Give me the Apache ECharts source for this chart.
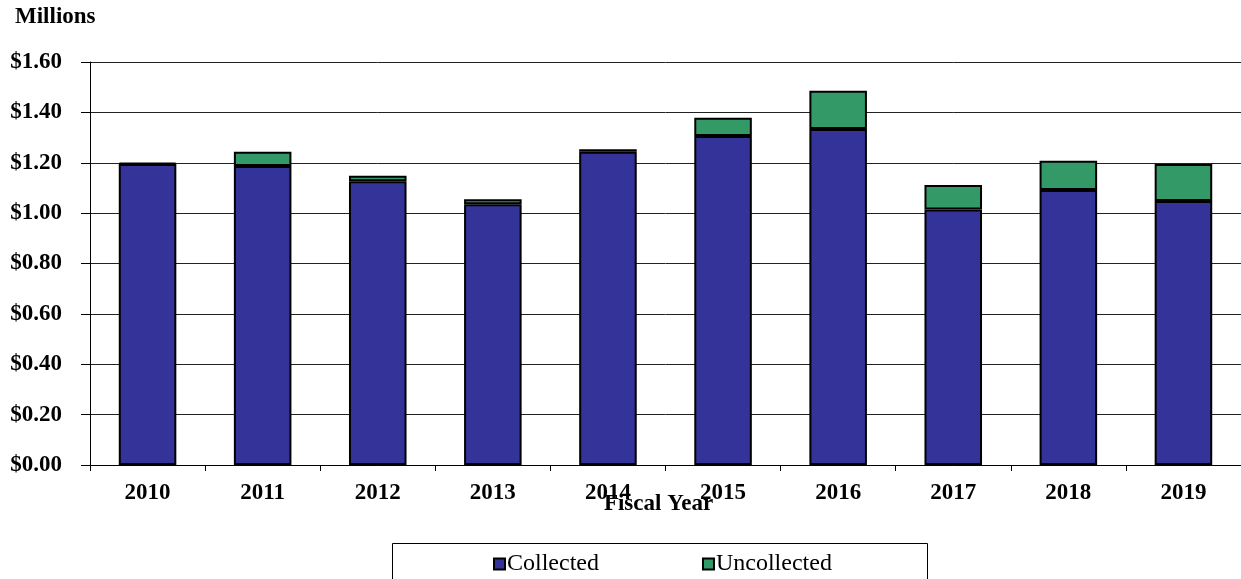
<!DOCTYPE html>
<html>
<head>
<meta charset="utf-8">
<style>
  html, body { margin: 0; padding: 0; background: #fff; }
  #chart { width: 1241px; height: 579px; }
</style>
<script src="https://cdn.jsdelivr.net/npm/echarts@6/dist/echarts.min.js"></script>
</head>
<body>
<div id="chart"></div>
<script>
// Fiscal years and amounts, in millions of dollars
const years = ['2010', '2011', '2012', '2013', '2014', '2015', '2016', '2017', '2018', '2019'];
const collected = [1.195, 1.187, 1.127, 1.035, 1.244, 1.306, 1.334, 1.014, 1.092, 1.048];
const uncollected = [0.005, 0.057, 0.021, 0.020, 0.010, 0.073, 0.152, 0.098, 0.116, 0.147];
const yTicks = { min: 0, max: 1.6, interval: 0.2 };

const serif = '"Liberation Serif", "Times New Roman", serif';
const chart = echarts.init(document.getElementById('chart'));

chart.setOption({
  animation: false,
  backgroundColor: '#fff',
  grid: { left: 90, right: 0, top: 62, bottom: 114 },
  graphic: [
    {
      type: 'text', left: 15, top: 6,
      style: { text: 'Millions', font: 'bold 23px ' + serif, fill: '#000' }
    },
    {
      type: 'rect', left: 392, top: 543,
      shape: { width: 535, height: 50 },
      style: { fill: '#fff', stroke: '#000', lineWidth: 1 },
      z: -1
    }
  ],
  legend: {
    left: 488, top: 547,
    itemWidth: 11, itemHeight: 11, itemGap: 103,
    icon: 'rect',
    textStyle: { fontFamily: serif, fontSize: 24, color: '#000', padding: [0, 0, 0, -3] },
    data: ['Collected', 'Uncollected']
  },
  xAxis: {
    type: 'category',
    data: years,
    name: 'Fiscal Year',
    nameLocation: 'middle',
    nameGap: 28,
    nameMoveOverlap: false,
    nameTextStyle: {
      fontFamily: serif, fontWeight: 'bold', fontSize: 23, color: '#000',
      padding: [0, 14, 0, 0]
    },
    axisLine: { lineStyle: { color: '#000', width: 1 } },
    axisTick: { show: true, length: 6, lineStyle: { color: '#000' } },
    axisLabel: { fontFamily: serif, fontWeight: 'bold', fontSize: 23, color: '#000', margin: 17 }
  },
  yAxis: {
    type: 'value',
    min: yTicks.min, max: yTicks.max, interval: yTicks.interval,
    axisLine: { show: true, lineStyle: { color: '#000', width: 1 } },
    axisTick: { show: true, length: 9, lineStyle: { color: '#000' } },
    splitLine: { lineStyle: { color: '#222', width: 1 } },
    axisLabel: {
      fontFamily: serif, fontWeight: 'bold', fontSize: 23, color: '#000', margin: 28,
      formatter: v => '$' + v.toFixed(2)
    }
  },
  series: [
    {
      name: 'Collected', type: 'bar', stack: 'total', barWidth: '50%',
      data: collected,
      itemStyle: { color: '#333399', borderColor: '#000', borderWidth: 2 }
    },
    {
      name: 'Uncollected', type: 'bar', stack: 'total', barWidth: '50%',
      data: uncollected,
      itemStyle: { color: '#339966', borderColor: '#000', borderWidth: 2 }
    }
  ]
});
</script>
</body>
</html>
